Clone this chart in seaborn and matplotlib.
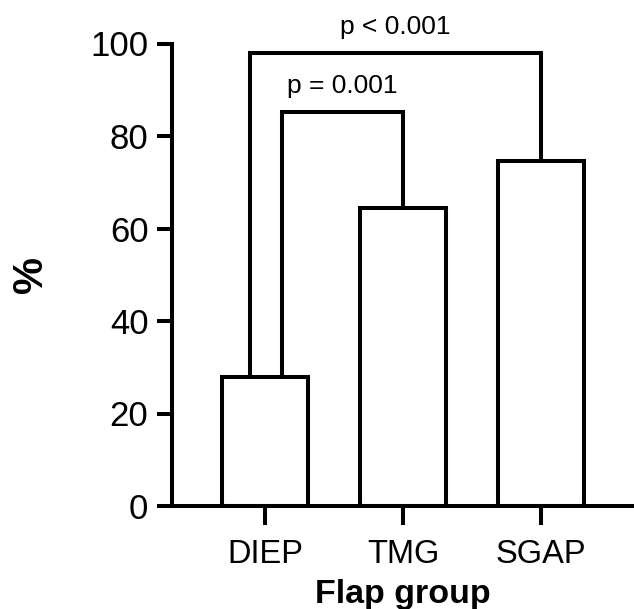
import matplotlib
matplotlib.use("Agg")
import matplotlib.pyplot as plt
import seaborn as sns

# data
groups = ["DIEP", "TMG", "SGAP"]
percent = [28, 64.5, 74.5]

# significance brackets: (left group, right group, bracket height, label)
brackets = [
    ("DIEP", "TMG", 85.2, "p = 0.001"),
    ("DIEP", "SGAP", 98, "p < 0.001"),
]

sns.set_style("ticks")
plt.rcParams["font.family"] = ["Liberation Sans", "DejaVu Sans"]
plt.rcParams["text.color"] = "black"
plt.rcParams["axes.labelcolor"] = "black"
plt.rcParams["xtick.color"] = "black"
plt.rcParams["ytick.color"] = "black"

lw = 2.9
fig = plt.figure(figsize=(6.34, 6.09), dpi=100)
ax = fig.add_axes([172 / 634, 1 - 506 / 609, 462 / 634, 462.5 / 609])

sns.barplot(x=groups, y=percent, color="white", edgecolor="black",
            linewidth=lw, width=0.625, saturation=1, ax=ax)

# brackets: outer one starts left of DIEP centre, inner one right of it
offsets = {("DIEP", "TMG"): 0.12, ("DIEP", "SGAP"): -0.11}
for left, right, h, label in brackets:
    i, j = groups.index(left), groups.index(right)
    x0 = i + offsets[(left, right)]
    x1 = j
    ax.plot([x0, x0, x1, x1], [percent[i], h, h, percent[j]],
            color="black", lw=lw, solid_joinstyle="miter", clip_on=False)
    ax.text((x0 + x1) / 2, h + 3.0, label, ha="center", va="bottom",
            fontsize=19, color="black")

ax.set_xlim(-0.674, 2.674)
ax.set_ylim(0, 100)
ax.set_yticks([0, 20, 40, 60, 80, 100])
sns.despine(ax=ax)
for s in ["left", "bottom"]:
    ax.spines[s].set_linewidth(lw)
    ax.spines[s].set_color("black")

ax.tick_params(axis="y", length=11, width=lw, labelsize=25, pad=6)
ax.tick_params(axis="x", length=14, width=lw, labelsize=23.5, pad=10)

ax.set_xlabel("Flap group", fontsize=24.5, fontweight="bold", labelpad=6)
ax.set_ylabel("%", fontsize=30, fontweight="bold", labelpad=28)

fig.savefig("out.png", dpi=100)
